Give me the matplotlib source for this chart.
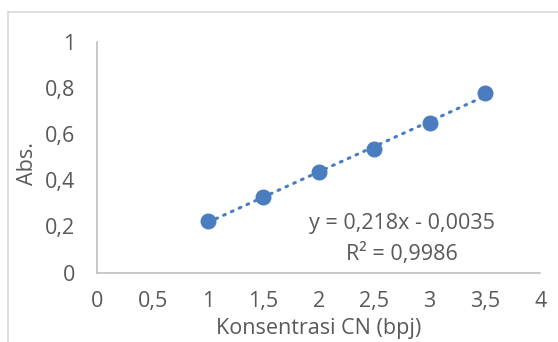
import numpy as np
import matplotlib
matplotlib.use("Agg")
import matplotlib.pyplot as plt
from matplotlib.lines import Line2D

plt.rcParams['font.family'] = ['Open Sans', 'DejaVu Sans']

# data
konsentrasi = [1, 1.5, 2, 2.5, 3, 3.5]
absorbansi = [0.225, 0.325, 0.434, 0.537, 0.648, 0.776]
x_ticks = [0, 0.5, 1, 1.5, 2, 2.5, 3, 3.5, 4]
y_ticks = [0, 0.2, 0.4, 0.6, 0.8, 1]

blue = '#4a7dbf'
grey_txt = '#595959'
fs = 15.5

fig = plt.figure(figsize=(5.58, 3.42), dpi=100)
# chart area frame: only its top and left edge are inside the picture
top = 1 - 11.5 / 342
left = 7.5 / 558
fig.lines.append(Line2D([left, 1.0], [top, top], transform=fig.transFigure,
                        color='#d9d9d9', linewidth=1.2))
fig.lines.append(Line2D([left, left], [0, top], transform=fig.transFigure,
                        color='#d9d9d9', linewidth=1.2))

ax = fig.add_axes([0.1742, 0.2032, 0.7944, 0.6749])

# trendline from a linear fit
k, b = np.polyfit(konsentrasi, absorbansi, 1)
xs = np.array([konsentrasi[0], konsentrasi[-1]])
ax.plot(xs, k * xs + b, color=blue, linewidth=2.2, linestyle=(0, (0.6, 2.2)),
        dash_capstyle='round', zorder=2)
ax.plot(konsentrasi, absorbansi, 'o', color=blue, markersize=10.5, zorder=3)

ax.text(2.75, 0.212, 'y = 0,218x - 0,0035', ha='center', va='center', fontsize=fs, color=grey_txt)
ax.text(2.75, 0.080, 'R² = 0,9986', ha='center', va='center', fontsize=fs, color=grey_txt)

ax.set_xlim(0, 4)
ax.set_ylim(0, 1)
ax.set_xticks(x_ticks)
ax.set_xticklabels([f'{v:g}'.replace('.', ',') for v in x_ticks])
ax.set_yticks(y_ticks)
ax.set_yticklabels([f'{v:g}'.replace('.', ',') for v in y_ticks])
ax.tick_params(axis='x', length=0, pad=13, labelsize=fs, labelcolor=grey_txt)
ax.tick_params(axis='y', length=0, pad=16, labelsize=fs, labelcolor=grey_txt)

for s in ['top', 'right']:
    ax.spines[s].set_visible(False)
for s in ['left', 'bottom']:
    ax.spines[s].set_color('#bfbfbf')
    ax.spines[s].set_linewidth(1.2)

ax.set_xlabel('Konsentrasi CN (bpj)', fontsize=fs, color=grey_txt, va='center')
ax.xaxis.set_label_coords(0.5, -0.243)
ax.set_ylabel('Abs.', fontsize=fs, color=grey_txt, va='center')
ax.yaxis.set_label_coords(-0.158, 0.474)

fig.savefig('out.png', dpi=100)
